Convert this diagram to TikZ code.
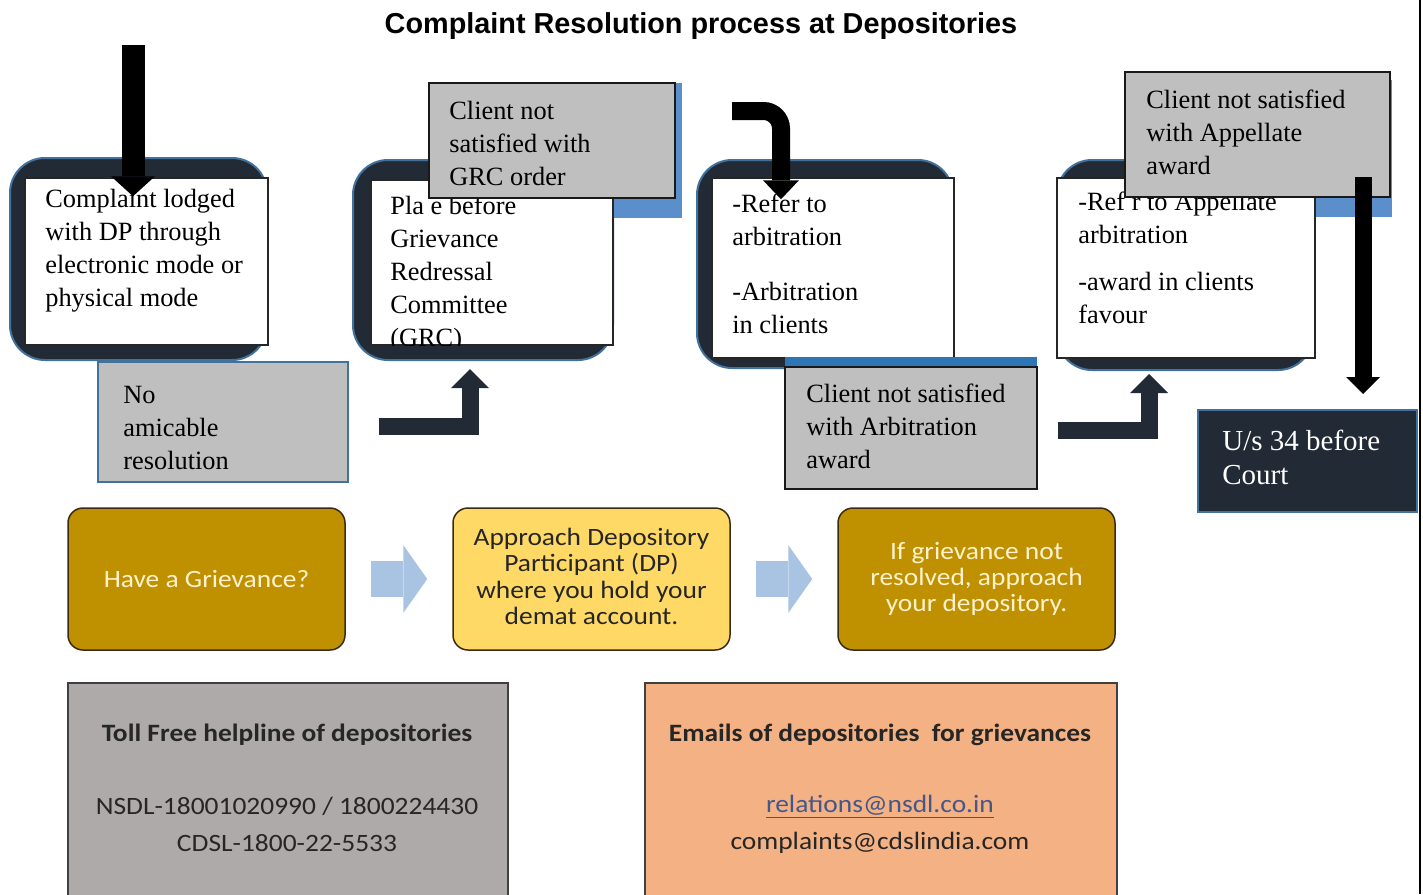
\documentclass[tikz,border=0pt]{standalone}
\usepackage{fontspec}
\setmainfont{Liberation Serif}
\newfontfamily\arialfont{Liberation Sans}
\newfontfamily\calibrifont[FakeStretch=1.1]{Carlito}
\usetikzlibrary{arrows.meta, fit}

\definecolor{navyframe}{HTML}{222A35}
\definecolor{edgeblue}{HTML}{41719C}
\definecolor{boxgray}{HTML}{BFBFBF}
\definecolor{stripblue}{HTML}{5B8FCB}
\definecolor{stripdeep}{HTML}{2E75B6}
\definecolor{gold}{HTML}{BF9000}
\definecolor{paleyellow}{HTML}{FFD966}
\definecolor{cream}{HTML}{FFF2CC}
\definecolor{brownedge}{HTML}{3B2A12}
\definecolor{chevron}{HTML}{A9C3E3}
\definecolor{helpgray}{HTML}{AEAAAA}
\definecolor{peach}{HTML}{F4B183}
\definecolor{darktext}{HTML}{262626}
\definecolor{linkblue}{HTML}{45578A}

\newcommand\boxfont{\fontsize{15}{18.7}\selectfont}
\newcommand\courtfont{\fontsize{16.5}{19.2}\selectfont}
\newcommand\titlefont{\arialfont\bfseries\fontsize{16.4}{20}\selectfont}
\newcommand\midfont{\calibrifont\fontsize{14.2}{15}\selectfont}
\newcommand\lowfont{\calibrifont\fontsize{14.2}{21}\selectfont}

\tikzset{
  darkframe/.style={fill=navyframe, draw=edgeblue, line width=0.4mm, rounded corners=7mm, inner sep=0},
  whitebox/.style={fill=white, draw=black!85, line width=0.3mm, inner sep=0},
  greybox/.style={fill=boxgray, draw=black!90, line width=0.4mm, inner sep=0},
  courtbox/.style={fill=navyframe, draw=edgeblue, line width=0.4mm, inner sep=0},
  boxtext/.style={anchor=base west, align=left, inner sep=0, font=\boxfont},
  goldbox/.style={fill=gold, draw=brownedge, line width=0.3mm, rounded corners=3mm, inner sep=0},
  paleybox/.style={goldbox, fill=paleyellow},
  midtext/.style={align=center, inner sep=0, font=\midfont},
  navyarrow/.style={draw=navyframe, line width=3.4mm, -{Triangle[width=7.6mm, length=3.8mm, line width=0pt]}},
  chevarrow/.style={draw=chevron, line width=7.2mm, -{Triangle[width=13.6mm, length=4.8mm, line width=0pt]}}
}

\begin{document}
\begin{tikzpicture}[x=0.2mm, y=-0.2mm]
  \useasboundingbox (0,0) rectangle (1423,894);
  % Title
  \node[font=\titlefont] (title) at (701,26) {Complaint Resolution process at Depositories};

  % First step (text nodes sit on the baseline of their last line)
  \node[darkframe, fit={(10,158) (267,360)}] (f1) {};
  \node[whitebox, fit={(25,178) (268,345)}] (w1) {};
  \node[boxtext] (t1) at (45,306) {Complaint lodged\\with DP through\\electronic mode or\\physical mode};
  \node[greybox, draw=edgeblue, line width=0.3mm, fit={(98,362) (348,482)}] (noamic) {};
  \node[boxtext] (t1b) at (123,469) {No\\amicable\\resolution};

  % Second step
  \node[darkframe, fit={(353,160) (613,360)}] (f2) {};
  \fill[stripblue] (520,83) rectangle (682,218);
  \node[whitebox, fit={(371,180) (613,345)}] (w2) {};
  \begin{scope}
    \clip (w2.north west) rectangle (w2.south east);
    \node[boxtext] (t2) at (390,346) {Pla e before\\Grievance\\Redressal\\Committee\\(GRC)};
  \end{scope}
  \node[greybox, fit={(429,83) (675,198)}] (grc) {};
  \node[boxtext] (t2b) at (449,185) {Client not\\satisfied with\\GRC order};

  % Third step
  \node[darkframe, fit={(697,160) (953,368)}] (f3) {};
  \node[whitebox, fit={(712,178) (954,358)}] (w3) {};
  \node[boxtext] (t3) at (732,333) {-Refer to\\arbitration\\[4.4mm]-Arbitration\\in clients};
  \fill[stripdeep] (785,357) rectangle (1037,368);
  \node[greybox, fit={(785,367) (1037,489)}] (arbit) {};
  \node[boxtext] (t3b) at (806,468) {Client not satisfied\\with Arbitration\\award};

  % Fourth step
  \node[darkframe, fit={(1057,160) (1313,370)}] (f4) {};
  \fill[stripblue] (1200,80) rectangle (1392,217);
  \node[whitebox, fit={(1057,178) (1315,358)}] (w4) {};
  \node[boxtext] (t4) at (1078,323) {-Ref r to Appellate\\arbitration\\[2.8mm]-award in clients\\favour};
  \node[greybox, fit={(1125,72) (1390,197)}] (apl) {};
  \node[boxtext] (t4b) at (1146,174) {Client not satisfied\\with Appellate\\award};
  \node[courtbox, fit={(1198,410) (1417,512)}] (court) {};
  \node[boxtext, font=\courtfont, text=white] (t5) at (1222,484) {U/s 34 before\\Court};

  % Arrows
  \coordinate (in1) at (133,45);
  \draw[line width=4.6mm, -{Triangle[width=8.8mm, length=4mm, line width=0pt]}, shorten >=-3.8mm] (in1) -- (in1 |- w1.north);
  \draw[navyarrow, shorten >=1.6mm] ([xshift=6mm, yshift=-0.8mm]noamic.east) -| ([xshift=-2.6mm]f2.south);
  \coordinate (in3) at (732,111);
  \draw[line width=3.6mm, rounded corners=3.5mm, -{Triangle[width=7.2mm, length=3.8mm, line width=0pt]}, shorten >=-4.4mm] (in3) -| ([xshift=-10.4mm]w3.north);
  \draw[navyarrow, shorten >=0.6mm] ([xshift=4mm, yshift=-0.4mm]arbit.east) -| ([xshift=-7.2mm]f4.south);
  \coordinate (in5) at (1363,177);
  \draw[line width=3.4mm, -{Triangle[width=6.8mm, length=3.4mm, line width=0pt]}, shorten >=3mm] (in5) -- (in5 |- court.north);

  % Page edge
  \draw[line width=0.5mm] (1420,0) -- (1420,894);

  % Grievance steps
  \node[goldbox, fit={(68,508) (345,650)}] (ga) {};
  \node[midtext, text=cream] (gatext) at (ga.center) {Have a Grievance?};
  \node[paleybox, fit={(453,508) (730,650)}] (gb) {};
  \node[midtext, text=darktext] (gbtext) at ([yshift=0.5mm]gb.center) {Approach Depository\\Participant (DP)\\where you hold your\\demat account.};
  \node[goldbox, fit={(838,508) (1115,650)}] (gc) {};
  \node[midtext, text=cream] (gctext) at (gc.center) {If grievance not\\resolved, approach\\your depository.};
  \draw[chevarrow] ([xshift=5mm]ga.east) -- ([xshift=-5mm]gb.west);
  \draw[chevarrow] ([xshift=5mm]gb.east) -- ([xshift=-5mm]gc.west);

  % Helplines
  \fill[helpgray, draw=black!75, line width=0.3mm] (68,683) rectangle (508,900);
  \node[font=\lowfont\bfseries, text=darktext] (helptitle) at (287,735) {Toll Free helpline of depositories};
  \node[font=\lowfont, text=darktext, align=center] (helpnums) at (287,824) {NSDL-18001020990 / 1800224430\\CDSL-1800-22-5533};
  \fill[peach, draw=black!75, line width=0.3mm] (645,683) rectangle (1117,900);
  \node[font=\lowfont\bfseries, text=darktext] (mailtitle) at (880,735) {Emails of depositories\ \ for grievances};
  \node[font=\lowfont, text=darktext, align=center] (mailaddr) at (880,824) {\textcolor{linkblue}{\underline{relations@nsdl.co.in}}\\complaints@cdslindia.com};
\end{tikzpicture}
\end{document}
